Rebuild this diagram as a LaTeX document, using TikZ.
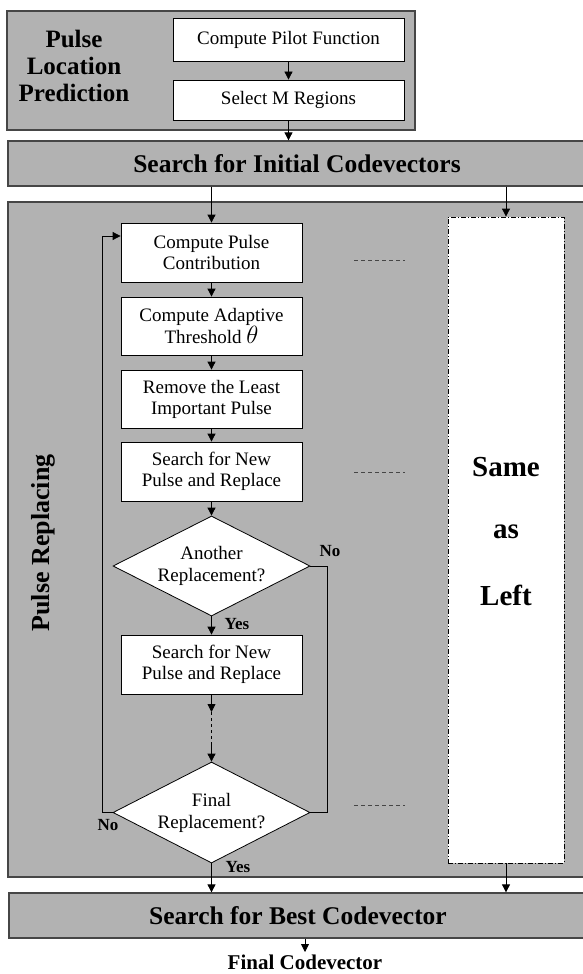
\documentclass[tikz,border=0pt]{standalone}
\usepackage{fontspec}
\setmainfont{Liberation Serif}
\usetikzlibrary{shapes.geometric,arrows.meta}
\definecolor{panel}{RGB}{178,178,178}
\definecolor{edge}{RGB}{70,70,70}
\begin{document}
\begin{tikzpicture}[x=1pt,y=-1pt,
  panelbox/.style={draw=edge,line width=1.3pt,fill=panel,rectangle,inner sep=0pt},
  stepbox/.style={draw=black,line width=0.8pt,fill=white,rectangle,inner sep=0pt,minimum width=181pt,align=center,font=\fontsize{19}{21}\selectfont},
  decbox/.style={draw=black,line width=0.8pt,fill=white,diamond,inner sep=0pt,minimum width=197pt,minimum height=100pt},
  dectext/.style={align=center,font=\fontsize{19}{22}\selectfont},
  arr/.style={line width=0.8pt,-{Triangle[length=8pt,width=8pt]}},
  conn/.style={line width=0.8pt},
  lbl/.style={font=\bfseries\fontsize{17}{19}\selectfont,inner sep=0pt},
  bartext/.style={font=\bfseries\fontsize{25.5}{28}\selectfont},
  dots/.style={draw=edge,line width=0.8pt,dash pattern=on 4pt off 3pt}
]
\useasboundingbox (0,0) rectangle (582,974);

% top panel
\node[panelbox,minimum width=408pt,minimum height=119pt] (plp) at (211,70.5) {};
\node[align=center,font=\bfseries\fontsize{25}{27}\selectfont] (plpt) at (74,66) {Pulse\\Location\\Prediction};
\node[stepbox,minimum width=231pt,minimum height=43pt] (cpf) at (288.5,39.5) {Compute Pilot Function};
\node[stepbox,minimum width=231pt,minimum height=40pt] (smr) at (288.5,100) {Select M Regions};

% search initial bar
\node[panelbox,minimum width=592pt,minimum height=45pt] (sic) at (304,163.5) {};
\node[bartext] (sict) at (297,163.5) {Search for Initial Codevectors};

% pulse replacing panel
\node[panelbox,minimum width=592pt,minimum height=675pt] (pr) at (304,539.5) {};
\node[rotate=90,font=\bfseries\fontsize{26}{28}\selectfont] (prt) at (43,543) {Pulse Replacing};

% steps
\node[stepbox,minimum height=59pt] (cpc) at (211.5,252.5) {Compute Pulse\\Contribution};
\node[stepbox,minimum height=58pt] (cat) at (211.5,326) {Compute Adaptive\\Threshold {\fontsize{23}{22}\selectfont$\theta$}};
\node[stepbox,minimum height=58pt] (rli) at (211.5,399) {Remove the Least\\Important Pulse};
\node[stepbox,minimum height=59pt] (sfn1) at (211.5,471.5) {Search for New\\Pulse and Replace};
\node[decbox] (d1) at (211.5,566) {};
\node[dectext] (d1t) at (211.5,566) {Another\\Replacement?};
\node[stepbox,minimum height=59pt] (sfn2) at (211.5,664.5) {Search for New\\Pulse and Replace};
\node[decbox,minimum height=101pt] (d2) at (211.5,812.5) {};
\node[dectext] (d2t) at (211.5,812.5) {Final\\Replacement?};

% same as left box
\node[draw=black,line width=0.8pt,fill=white,dash pattern=on 5pt off 2pt on 1pt off 2pt,minimum width=116pt,minimum height=646pt,inner sep=0pt] (dd) at (506,540) {};
\node[font=\bfseries\fontsize{29}{31}\selectfont] (s1) at (506,467) {Same};
\node[font=\bfseries\fontsize{29}{31}\selectfont] (s2) at (506,532) {as};
\node[font=\bfseries\fontsize{29}{31}\selectfont] (s3) at (506,595) {Left};

% best bar
\node[panelbox,minimum width=592pt,minimum height=45pt] (best) at (305,915.5) {};
\node[bartext] (bestt) at (298,915.5) {Search for Best Codevector};
\node[anchor=base,font=\bfseries\fontsize{21}{23}\selectfont,inner sep=0pt] (fc) at (305,969) {Final Codevector};

% arrows top
\draw[arr] (cpf) -- (smr);
\draw[arr] (smr.south) -- (smr.south |- sic.north);
\draw[arr] (sic.south -| cpc.north) -- (cpc.north);
\draw[arr] (sic.south -| dd.north) -- (dd.north);

% main chain
\draw[arr] (cpc) -- (cat);
\draw[arr] (cat) -- (rli);
\draw[arr] (rli) -- (sfn1);
\draw[arr] (sfn1) -- (d1.north);
\draw[arr] (d1.south) -- (sfn2.north);
\node[lbl] (y1) at (237,624) {Yes};
\node[lbl] (n1) at (330,551) {No};

\coordinate (m1) at (211.5,712);
\coordinate (m2) at (211.5,745);
\draw[arr] (sfn2.south) -- (m1);
\draw[conn,dashed] (m1) -- (m2);
\draw[arr] (m2) -- (d2.north);

% No branch from d1 to d2
\draw[conn] (d1.east) -- (327,566) -- (327,812.5) -- (d2.east);

% loop back from d2
\coordinate (lb) at (102,236);
\draw[arr] (d2.west) -| (lb) -- (lb -| cpc.west);
\node[lbl] (n2) at (108,825) {No};

\draw[arr] (d2.south) -- (d2.south |- best.north);
\node[lbl] (y2) at (238,867) {Yes};
\draw[arr] (dd.south) -- (dd.south |- best.north);
\draw[arr] (best.south -| fc) -- (305,952);

% dotted separators
\draw[dots] (354,260) -- (405,260);
\draw[dots] (354,472) -- (405,472);
\draw[dots] (354,805) -- (405,805);
\end{tikzpicture}
\end{document}
